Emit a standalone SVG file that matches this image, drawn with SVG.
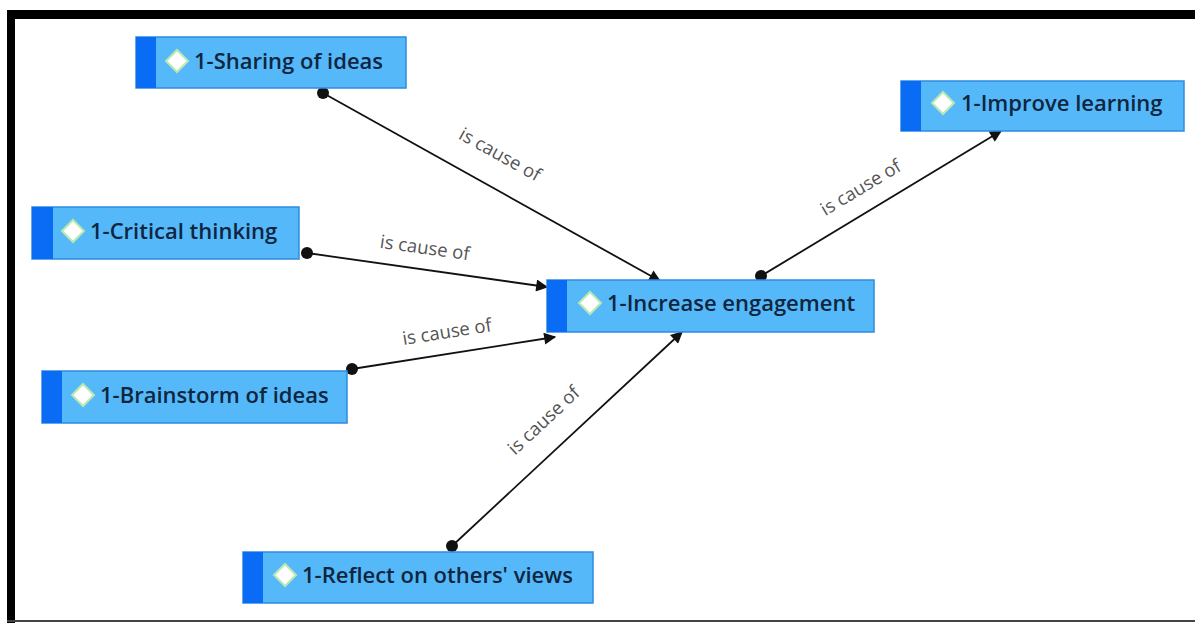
<svg xmlns="http://www.w3.org/2000/svg" width="1195" height="623" viewBox="0 0 1195 623">
<defs>
<style>
.box{fill:#55b9f9;stroke:#2f8be0;stroke-width:1.5}
.stripe{fill:#0a6cf5}
.dia{fill:#ffffff;stroke:#b9e8b0;stroke-width:2}
.lbl{font-family:"Open Sans","Noto Sans",sans-serif;font-weight:600;font-size:22px;fill:#0f2540}
.edge{stroke:#111;stroke-width:1.8;fill:none;marker-end:url(#arr);marker-start:url(#dot)}
.elbl{font-family:"Open Sans","Noto Sans",sans-serif;font-size:18.5px;fill:#555;text-anchor:middle}
</style>
<marker id="arr" viewBox="0 0 10 10" refX="9" refY="5" markerWidth="14" markerHeight="12" markerUnits="userSpaceOnUse" orient="auto"><path d="M0,0 L10,5 L0,10 z" fill="#111"/></marker>
<marker id="dot" viewBox="0 0 10 10" refX="5" refY="5" markerWidth="12" markerHeight="12" markerUnits="userSpaceOnUse"><circle cx="5" cy="5" r="5" fill="#111"/></marker>
</defs>
<rect x="0" y="0" width="1195" height="623" fill="#fff"/>
<rect x="7" y="10" width="1188" height="9" fill="#000"/>
<rect x="7" y="10" width="8" height="613" fill="#000"/>
<rect x="7" y="620" width="1188" height="2" fill="#444"/>

<g id="connectors">
<line class="edge" x1="323" y1="93" x2="660" y2="281"/>
<line class="edge" x1="307" y1="253" x2="547" y2="287"/>
<line class="edge" x1="352" y1="369" x2="555" y2="337"/>
<line class="edge" x1="452" y1="546" x2="682" y2="332"/>
<line class="edge" x1="761" y1="276" x2="1001" y2="131"/>
<text class="elbl" transform="translate(497,160) rotate(29)">is cause of</text>
<text class="elbl" transform="translate(424,254) rotate(8)">is cause of</text>
<text class="elbl" transform="translate(448,338) rotate(-9)">is cause of</text>
<text class="elbl" transform="translate(548,425) rotate(-43)">is cause of</text>
<text class="elbl" transform="translate(864,193) rotate(-31)">is cause of</text>
</g>

<g id="n-sharing">
<rect class="box" x="136" y="37" width="270" height="51"/>
<rect class="stripe" x="136" y="37" width="20" height="51"/>
<path class="dia" d="M177,50 L188,61 L177,72 L166,61 z"/>
<text class="lbl" x="194" y="69">1-Sharing of ideas</text>
</g>
<g id="n-critical">
<rect class="box" x="32" y="207" width="267" height="52"/>
<rect class="stripe" x="32" y="207" width="21" height="52"/>
<path class="dia" d="M73,220 L84,231 L73,242 L62,231 z"/>
<text class="lbl" x="90" y="239">1-Critical thinking</text>
</g>
<g id="n-brainstorm">
<rect class="box" x="42" y="371" width="305" height="52"/>
<rect class="stripe" x="42" y="371" width="20" height="52"/>
<path class="dia" d="M83,384 L94,395 L83,406 L72,395 z"/>
<text class="lbl" x="100" y="403">1-Brainstorm of ideas</text>
</g>
<g id="n-increase">
<rect class="box" x="547" y="280" width="327" height="52"/>
<rect class="stripe" x="547" y="280" width="20" height="52"/>
<path class="dia" d="M590,292 L601,303 L590,314 L579,303 z"/>
<text class="lbl" x="607" y="311">1-Increase engagement</text>
</g>
<g id="n-improve">
<rect class="box" x="901" y="81" width="283" height="50"/>
<rect class="stripe" x="901" y="81" width="20" height="50"/>
<path class="dia" d="M943,92 L954,103 L943,114 L932,103 z"/>
<text class="lbl" x="961" y="111">1-Improve learning</text>
</g>
<g id="n-reflect">
<rect class="box" x="243" y="552" width="350" height="51"/>
<rect class="stripe" x="243" y="552" width="20" height="51"/>
<path class="dia" d="M285,564 L296,575 L285,586 L274,575 z"/>
<text class="lbl" x="302" y="583">1-Reflect on others' views</text>
</g>
</svg>
